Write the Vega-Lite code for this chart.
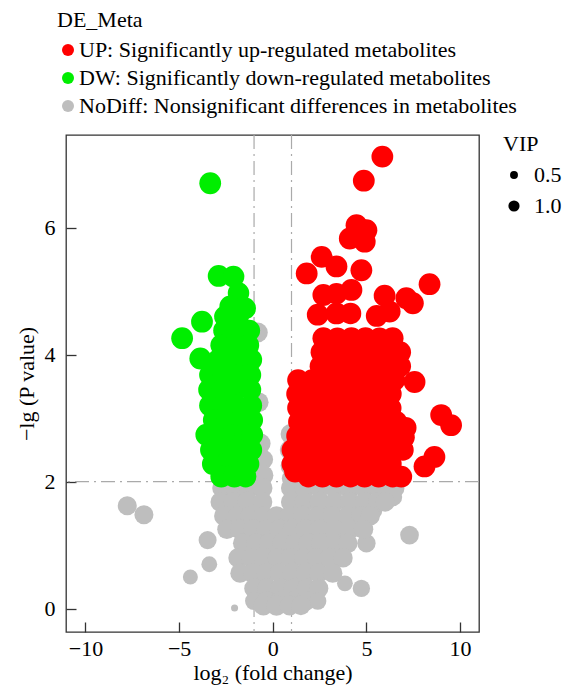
{
  "$schema": "https://vega.github.io/schema/vega-lite/v6.json",
  "width": 413,
  "height": 497,
  "autosize": {"type": "none"},
  "padding": {"left": 66, "top": 135, "right": 96, "bottom": 60},
  "config": {
    "font": "Liberation Serif",
    "view": {"stroke": "#333333", "strokeWidth": 1.3},
    "axis": {"domain": false, "grid": false, "tickColor": "#333333", "tickWidth": 1.3, "tickSize": -10, "labelFont": "Liberation Serif", "titleFont": "Liberation Serif", "labelFontSize": 22, "labelColor": "#000000", "titleFontSize": 22, "titleFontWeight": "normal", "titleColor": "#000000"},
    "legend": {"labelFont": "Liberation Serif", "titleFont": "Liberation Serif", "titleFontSize": 22, "titleFontWeight": "normal", "titleColor": "#000000", "labelFontSize": 22, "labelColor": "#000000", "labelLimit": 600}
  },
  "layer": [
    {
      "data": {"values": [{"lfc": -1}, {"lfc": 1}]},
      "mark": {"type": "rule", "color": "#aaaaaa", "strokeWidth": 1.2, "strokeDash": [14, 5, 2, 5]},
      "encoding": {
        "x": {"field": "lfc", "type": "quantitative", "scale": {"domain": [-11.04, 11.01], "nice": false, "zero": false}, "axis": {"values": [-10, -5, 0, 5, 10], "title": "log₂ (fold change)", "labelPadding": 16, "titleY": 40, "titleBaseline": "middle"}}
      }
    },
    {
      "data": {"values": [{"nlp": 2}]},
      "mark": {"type": "rule", "color": "#aaaaaa", "strokeWidth": 1.2, "strokeDash": [14, 5, 2, 5]},
      "encoding": {
        "y": {"field": "nlp", "type": "quantitative", "scale": {"domain": [-0.367, 7.46], "nice": false, "zero": false}, "axis": {"values": [0, 2, 4, 6], "title": "−lg (P value)", "labelPadding": 21, "titleX": -40, "titleY": 248.5, "titleBaseline": "middle", "titleAlign": "center", "titleAngle": 270}}
      }
    },
    {
      "data": {"values": [
        {"lfc": -7.77, "nlp": 1.62, "vip": 2.9, "g": "NoDiff"},
        {"lfc": -6.88, "nlp": 1.48, "vip": 2.9, "g": "NoDiff"},
        {"lfc": -3.48, "nlp": 1.08, "vip": 2.6, "g": "NoDiff"},
        {"lfc": -3.39, "nlp": 0.7, "vip": 2.0, "g": "NoDiff"},
        {"lfc": -4.4, "nlp": 0.5, "vip": 1.8, "g": "NoDiff"},
        {"lfc": -2.04, "nlp": 0.01, "vip": 0.4, "g": "NoDiff"},
        {"lfc": 7.3, "nlp": 1.16, "vip": 2.8, "g": "NoDiff"},
        {"lfc": 5.0, "nlp": 1.03, "vip": 2.7, "g": "NoDiff"},
        {"lfc": 3.85, "nlp": 0.4, "vip": 2.0, "g": "NoDiff"},
        {"lfc": 4.73, "nlp": 0.32, "vip": 2.4, "g": "NoDiff"},
        {"lfc": 5.35, "nlp": 1.55, "vip": 2.8, "g": "NoDiff"},
        {"lfc": 6.41, "nlp": 1.76, "vip": 2.8, "g": "NoDiff"},
        {"lfc": -0.8, "nlp": 4.35, "vip": 3.2, "g": "NoDiff"},
        {"lfc": -0.75, "nlp": 3.25, "vip": 3.1, "g": "NoDiff"},
        {"lfc": -0.65, "nlp": 2.6, "vip": 3.2, "g": "NoDiff"},
        {"lfc": -0.5, "nlp": 2.35, "vip": 3.0, "g": "NoDiff"},
        {"lfc": -0.5, "nlp": 2.1, "vip": 3.2, "g": "NoDiff"},
        {"lfc": 0.95, "nlp": 2.75, "vip": 3.2, "g": "NoDiff"},
        {"lfc": 0.9, "nlp": 2.5, "vip": 3.1, "g": "NoDiff"},
        {"lfc": 0.95, "nlp": 2.25, "vip": 3.2, "g": "NoDiff"},
        {"lfc": 1.0, "nlp": 2.05, "vip": 3.0, "g": "NoDiff"},
        {"lfc": -2.7, "nlp": 1.9, "vip": 3.2, "g": "NoDiff"},
        {"lfc": -2.0, "nlp": 1.9, "vip": 3.3, "g": "NoDiff"},
        {"lfc": -1.3, "nlp": 1.9, "vip": 3.1, "g": "NoDiff"},
        {"lfc": -0.55, "nlp": 1.9, "vip": 3.2, "g": "NoDiff"},
        {"lfc": 0.97, "nlp": 1.9, "vip": 3.2, "g": "NoDiff"},
        {"lfc": 1.7, "nlp": 1.9, "vip": 3.3, "g": "NoDiff"},
        {"lfc": 2.5, "nlp": 1.9, "vip": 3.1, "g": "NoDiff"},
        {"lfc": 3.3, "nlp": 1.9, "vip": 3.2, "g": "NoDiff"},
        {"lfc": 4.1, "nlp": 1.9, "vip": 3.3, "g": "NoDiff"},
        {"lfc": 4.9, "nlp": 1.9, "vip": 3.2, "g": "NoDiff"},
        {"lfc": 5.7, "nlp": 1.9, "vip": 3.1, "g": "NoDiff"},
        {"lfc": 6.5, "nlp": 1.9, "vip": 3.2, "g": "NoDiff"},
        {"lfc": -2.8, "nlp": 1.68, "vip": 3.1, "g": "NoDiff"},
        {"lfc": -2.1, "nlp": 1.68, "vip": 3.2, "g": "NoDiff"},
        {"lfc": -1.35, "nlp": 1.68, "vip": 3.3, "g": "NoDiff"},
        {"lfc": -0.55, "nlp": 1.68, "vip": 3.1, "g": "NoDiff"},
        {"lfc": 0.97, "nlp": 1.68, "vip": 3.2, "g": "NoDiff"},
        {"lfc": 1.7, "nlp": 1.68, "vip": 3.2, "g": "NoDiff"},
        {"lfc": 2.5, "nlp": 1.68, "vip": 3.3, "g": "NoDiff"},
        {"lfc": 3.3, "nlp": 1.68, "vip": 3.1, "g": "NoDiff"},
        {"lfc": 4.1, "nlp": 1.68, "vip": 3.2, "g": "NoDiff"},
        {"lfc": 4.9, "nlp": 1.68, "vip": 3.2, "g": "NoDiff"},
        {"lfc": 5.6, "nlp": 1.68, "vip": 3.1, "g": "NoDiff"},
        {"lfc": 6.0, "nlp": 1.68, "vip": 3.0, "g": "NoDiff"},
        {"lfc": -2.6, "nlp": 1.46, "vip": 3.2, "g": "NoDiff"},
        {"lfc": -1.9, "nlp": 1.46, "vip": 3.1, "g": "NoDiff"},
        {"lfc": -1.2, "nlp": 1.46, "vip": 3.3, "g": "NoDiff"},
        {"lfc": -0.5, "nlp": 1.46, "vip": 3.2, "g": "NoDiff"},
        {"lfc": 0.2, "nlp": 1.46, "vip": 3.1, "g": "NoDiff"},
        {"lfc": 0.9, "nlp": 1.46, "vip": 3.2, "g": "NoDiff"},
        {"lfc": 1.6, "nlp": 1.46, "vip": 3.3, "g": "NoDiff"},
        {"lfc": 2.4, "nlp": 1.46, "vip": 3.2, "g": "NoDiff"},
        {"lfc": 3.2, "nlp": 1.46, "vip": 3.1, "g": "NoDiff"},
        {"lfc": 4.0, "nlp": 1.46, "vip": 3.2, "g": "NoDiff"},
        {"lfc": 4.7, "nlp": 1.46, "vip": 3.2, "g": "NoDiff"},
        {"lfc": 5.2, "nlp": 1.46, "vip": 3.0, "g": "NoDiff"},
        {"lfc": -2.45, "nlp": 1.25, "vip": 3.0, "g": "NoDiff"},
        {"lfc": -1.75, "nlp": 1.25, "vip": 3.2, "g": "NoDiff"},
        {"lfc": -1.05, "nlp": 1.25, "vip": 3.3, "g": "NoDiff"},
        {"lfc": -0.35, "nlp": 1.25, "vip": 3.1, "g": "NoDiff"},
        {"lfc": 0.35, "nlp": 1.25, "vip": 3.2, "g": "NoDiff"},
        {"lfc": 1.05, "nlp": 1.25, "vip": 3.2, "g": "NoDiff"},
        {"lfc": 1.75, "nlp": 1.25, "vip": 3.3, "g": "NoDiff"},
        {"lfc": 2.5, "nlp": 1.25, "vip": 3.1, "g": "NoDiff"},
        {"lfc": 3.3, "nlp": 1.25, "vip": 3.2, "g": "NoDiff"},
        {"lfc": 4.1, "nlp": 1.25, "vip": 3.2, "g": "NoDiff"},
        {"lfc": 4.85, "nlp": 1.25, "vip": 3.0, "g": "NoDiff"},
        {"lfc": -1.6, "nlp": 1.03, "vip": 3.1, "g": "NoDiff"},
        {"lfc": -0.9, "nlp": 1.03, "vip": 3.2, "g": "NoDiff"},
        {"lfc": -0.2, "nlp": 1.03, "vip": 3.3, "g": "NoDiff"},
        {"lfc": 0.5, "nlp": 1.03, "vip": 3.2, "g": "NoDiff"},
        {"lfc": 1.2, "nlp": 1.03, "vip": 3.1, "g": "NoDiff"},
        {"lfc": 1.9, "nlp": 1.03, "vip": 3.2, "g": "NoDiff"},
        {"lfc": 2.6, "nlp": 1.03, "vip": 3.3, "g": "NoDiff"},
        {"lfc": 3.3, "nlp": 1.03, "vip": 3.2, "g": "NoDiff"},
        {"lfc": 4.0, "nlp": 1.03, "vip": 3.1, "g": "NoDiff"},
        {"lfc": -1.85, "nlp": 0.8, "vip": 3.1, "g": "NoDiff"},
        {"lfc": -1.15, "nlp": 0.8, "vip": 3.2, "g": "NoDiff"},
        {"lfc": -0.45, "nlp": 0.8, "vip": 3.3, "g": "NoDiff"},
        {"lfc": 0.25, "nlp": 0.8, "vip": 3.2, "g": "NoDiff"},
        {"lfc": 0.95, "nlp": 0.8, "vip": 3.2, "g": "NoDiff"},
        {"lfc": 1.65, "nlp": 0.8, "vip": 3.1, "g": "NoDiff"},
        {"lfc": 2.35, "nlp": 0.8, "vip": 3.2, "g": "NoDiff"},
        {"lfc": 3.05, "nlp": 0.8, "vip": 3.3, "g": "NoDiff"},
        {"lfc": 3.75, "nlp": 0.8, "vip": 3.0, "g": "NoDiff"},
        {"lfc": -1.75, "nlp": 0.56, "vip": 3.0, "g": "NoDiff"},
        {"lfc": -1.05, "nlp": 0.56, "vip": 3.2, "g": "NoDiff"},
        {"lfc": -0.35, "nlp": 0.56, "vip": 3.3, "g": "NoDiff"},
        {"lfc": 0.35, "nlp": 0.56, "vip": 3.1, "g": "NoDiff"},
        {"lfc": 1.05, "nlp": 0.56, "vip": 3.2, "g": "NoDiff"},
        {"lfc": 1.75, "nlp": 0.56, "vip": 3.2, "g": "NoDiff"},
        {"lfc": 2.45, "nlp": 0.56, "vip": 3.1, "g": "NoDiff"},
        {"lfc": 3.2, "nlp": 0.56, "vip": 3.0, "g": "NoDiff"},
        {"lfc": -1.0, "nlp": 0.32, "vip": 3.1, "g": "NoDiff"},
        {"lfc": -0.3, "nlp": 0.32, "vip": 3.2, "g": "NoDiff"},
        {"lfc": 0.4, "nlp": 0.32, "vip": 3.3, "g": "NoDiff"},
        {"lfc": 1.1, "nlp": 0.32, "vip": 3.2, "g": "NoDiff"},
        {"lfc": 1.8, "nlp": 0.32, "vip": 3.1, "g": "NoDiff"},
        {"lfc": 2.45, "nlp": 0.32, "vip": 3.0, "g": "NoDiff"},
        {"lfc": -1.0, "nlp": 0.12, "vip": 2.6, "g": "NoDiff"},
        {"lfc": -0.3, "nlp": 0.12, "vip": 3.2, "g": "NoDiff"},
        {"lfc": 0.4, "nlp": 0.12, "vip": 3.3, "g": "NoDiff"},
        {"lfc": 1.1, "nlp": 0.12, "vip": 3.2, "g": "NoDiff"},
        {"lfc": 1.75, "nlp": 0.12, "vip": 3.1, "g": "NoDiff"},
        {"lfc": 2.4, "nlp": 0.12, "vip": 2.4, "g": "NoDiff"},
        {"lfc": -0.5, "nlp": 0.05, "vip": 3.2, "g": "NoDiff"},
        {"lfc": 0.2, "nlp": 0.05, "vip": 3.3, "g": "NoDiff"},
        {"lfc": 0.9, "nlp": 0.05, "vip": 3.2, "g": "NoDiff"},
        {"lfc": 1.5, "nlp": 0.05, "vip": 3.0, "g": "NoDiff"},

        {"lfc": -3.34, "nlp": 6.7, "vip": 3.8, "g": "DW"},
        {"lfc": -2.89, "nlp": 5.24, "vip": 3.8, "g": "DW"},
        {"lfc": -2.1, "nlp": 5.23, "vip": 3.8, "g": "DW"},
        {"lfc": -1.83, "nlp": 4.97, "vip": 3.7, "g": "DW"},
        {"lfc": -2.27, "nlp": 4.76, "vip": 3.8, "g": "DW"},
        {"lfc": -1.47, "nlp": 4.73, "vip": 3.7, "g": "DW"},
        {"lfc": -3.78, "nlp": 4.52, "vip": 3.8, "g": "DW"},
        {"lfc": -4.84, "nlp": 4.26, "vip": 3.8, "g": "DW"},
        {"lfc": -3.87, "nlp": 3.94, "vip": 3.8, "g": "DW"},
        {"lfc": -2.55, "nlp": 4.6, "vip": 3.8, "g": "DW"},
        {"lfc": -1.85, "nlp": 4.6, "vip": 3.7, "g": "DW"},
        {"lfc": -2.6, "nlp": 4.38, "vip": 3.8, "g": "DW"},
        {"lfc": -1.9, "nlp": 4.38, "vip": 3.8, "g": "DW"},
        {"lfc": -1.25, "nlp": 4.38, "vip": 3.7, "g": "DW"},
        {"lfc": -2.75, "nlp": 4.15, "vip": 3.8, "g": "DW"},
        {"lfc": -2.05, "nlp": 4.15, "vip": 3.8, "g": "DW"},
        {"lfc": -1.3, "nlp": 4.15, "vip": 3.7, "g": "DW"},
        {"lfc": -2.9, "nlp": 3.92, "vip": 3.8, "g": "DW"},
        {"lfc": -2.2, "nlp": 3.92, "vip": 3.8, "g": "DW"},
        {"lfc": -1.5, "nlp": 3.92, "vip": 3.7, "g": "DW"},
        {"lfc": -1.15, "nlp": 3.92, "vip": 3.8, "g": "DW"},
        {"lfc": -3.35, "nlp": 3.68, "vip": 3.8, "g": "DW"},
        {"lfc": -2.65, "nlp": 3.68, "vip": 3.8, "g": "DW"},
        {"lfc": -1.95, "nlp": 3.68, "vip": 3.7, "g": "DW"},
        {"lfc": -1.2, "nlp": 3.68, "vip": 3.8, "g": "DW"},
        {"lfc": -3.4, "nlp": 3.45, "vip": 3.8, "g": "DW"},
        {"lfc": -2.7, "nlp": 3.45, "vip": 3.7, "g": "DW"},
        {"lfc": -2.0, "nlp": 3.45, "vip": 3.8, "g": "DW"},
        {"lfc": -1.2, "nlp": 3.45, "vip": 3.8, "g": "DW"},
        {"lfc": -3.35, "nlp": 3.2, "vip": 3.8, "g": "DW"},
        {"lfc": -2.65, "nlp": 3.2, "vip": 3.8, "g": "DW"},
        {"lfc": -1.95, "nlp": 3.2, "vip": 3.7, "g": "DW"},
        {"lfc": -1.15, "nlp": 3.2, "vip": 3.8, "g": "DW"},
        {"lfc": -3.15, "nlp": 2.97, "vip": 3.8, "g": "DW"},
        {"lfc": -2.45, "nlp": 2.97, "vip": 3.7, "g": "DW"},
        {"lfc": -1.75, "nlp": 2.97, "vip": 3.8, "g": "DW"},
        {"lfc": -1.1, "nlp": 2.97, "vip": 3.8, "g": "DW"},
        {"lfc": -3.55, "nlp": 2.74, "vip": 3.8, "g": "DW"},
        {"lfc": -2.85, "nlp": 2.74, "vip": 3.8, "g": "DW"},
        {"lfc": -2.15, "nlp": 2.74, "vip": 3.7, "g": "DW"},
        {"lfc": -1.45, "nlp": 2.74, "vip": 3.8, "g": "DW"},
        {"lfc": -1.1, "nlp": 2.74, "vip": 3.8, "g": "DW"},
        {"lfc": -3.3, "nlp": 2.5, "vip": 3.8, "g": "DW"},
        {"lfc": -2.6, "nlp": 2.5, "vip": 3.7, "g": "DW"},
        {"lfc": -1.9, "nlp": 2.5, "vip": 3.8, "g": "DW"},
        {"lfc": -1.15, "nlp": 2.5, "vip": 3.8, "g": "DW"},
        {"lfc": -3.2, "nlp": 2.28, "vip": 3.8, "g": "DW"},
        {"lfc": -2.5, "nlp": 2.28, "vip": 3.8, "g": "DW"},
        {"lfc": -1.8, "nlp": 2.28, "vip": 3.7, "g": "DW"},
        {"lfc": -1.3, "nlp": 2.28, "vip": 3.8, "g": "DW"},
        {"lfc": -2.75, "nlp": 2.08, "vip": 3.8, "g": "DW"},
        {"lfc": -2.05, "nlp": 2.08, "vip": 3.8, "g": "DW"},
        {"lfc": -1.45, "nlp": 2.08, "vip": 3.7, "g": "DW"},

        {"lfc": 5.85, "nlp": 7.12, "vip": 3.8, "g": "UP"},
        {"lfc": 4.86, "nlp": 6.74, "vip": 3.8, "g": "UP"},
        {"lfc": 4.47, "nlp": 6.04, "vip": 3.8, "g": "UP"},
        {"lfc": 5.0, "nlp": 5.96, "vip": 3.8, "g": "UP"},
        {"lfc": 4.11, "nlp": 5.83, "vip": 3.8, "g": "UP"},
        {"lfc": 4.91, "nlp": 5.78, "vip": 3.8, "g": "UP"},
        {"lfc": 2.61, "nlp": 5.54, "vip": 3.8, "g": "UP"},
        {"lfc": 3.4, "nlp": 5.39, "vip": 3.8, "g": "UP"},
        {"lfc": 1.81, "nlp": 5.28, "vip": 3.8, "g": "UP"},
        {"lfc": 4.73, "nlp": 5.33, "vip": 3.8, "g": "UP"},
        {"lfc": 8.37, "nlp": 5.11, "vip": 3.8, "g": "UP"},
        {"lfc": 2.7, "nlp": 4.94, "vip": 3.8, "g": "UP"},
        {"lfc": 3.4, "nlp": 4.96, "vip": 3.7, "g": "UP"},
        {"lfc": 4.2, "nlp": 5.02, "vip": 3.8, "g": "UP"},
        {"lfc": 5.97, "nlp": 4.93, "vip": 3.8, "g": "UP"},
        {"lfc": 7.13, "nlp": 4.89, "vip": 3.8, "g": "UP"},
        {"lfc": 7.48, "nlp": 4.81, "vip": 3.8, "g": "UP"},
        {"lfc": 2.4, "nlp": 4.63, "vip": 3.8, "g": "UP"},
        {"lfc": 3.4, "nlp": 4.65, "vip": 3.8, "g": "UP"},
        {"lfc": 4.15, "nlp": 4.65, "vip": 3.7, "g": "UP"},
        {"lfc": 5.55, "nlp": 4.61, "vip": 3.8, "g": "UP"},
        {"lfc": 6.24, "nlp": 4.68, "vip": 3.8, "g": "UP"},
        {"lfc": 2.7, "nlp": 4.26, "vip": 3.8, "g": "UP"},
        {"lfc": 3.45, "nlp": 4.26, "vip": 3.7, "g": "UP"},
        {"lfc": 4.2, "nlp": 4.26, "vip": 3.8, "g": "UP"},
        {"lfc": 4.95, "nlp": 4.26, "vip": 3.8, "g": "UP"},
        {"lfc": 5.7, "nlp": 4.26, "vip": 3.7, "g": "UP"},
        {"lfc": 6.4, "nlp": 4.26, "vip": 3.8, "g": "UP"},
        {"lfc": 2.6, "nlp": 4.04, "vip": 3.8, "g": "UP"},
        {"lfc": 3.35, "nlp": 4.04, "vip": 3.8, "g": "UP"},
        {"lfc": 4.1, "nlp": 4.04, "vip": 3.7, "g": "UP"},
        {"lfc": 4.85, "nlp": 4.04, "vip": 3.8, "g": "UP"},
        {"lfc": 5.6, "nlp": 4.04, "vip": 3.8, "g": "UP"},
        {"lfc": 6.35, "nlp": 4.04, "vip": 3.7, "g": "UP"},
        {"lfc": 6.8, "nlp": 4.04, "vip": 3.8, "g": "UP"},
        {"lfc": 2.55, "nlp": 3.82, "vip": 3.8, "g": "UP"},
        {"lfc": 3.3, "nlp": 3.82, "vip": 3.7, "g": "UP"},
        {"lfc": 4.05, "nlp": 3.82, "vip": 3.8, "g": "UP"},
        {"lfc": 4.8, "nlp": 3.82, "vip": 3.8, "g": "UP"},
        {"lfc": 5.55, "nlp": 3.82, "vip": 3.7, "g": "UP"},
        {"lfc": 6.3, "nlp": 3.82, "vip": 3.8, "g": "UP"},
        {"lfc": 6.8, "nlp": 3.82, "vip": 3.8, "g": "UP"},
        {"lfc": 1.35, "nlp": 3.6, "vip": 3.8, "g": "UP"},
        {"lfc": 2.1, "nlp": 3.6, "vip": 3.7, "g": "UP"},
        {"lfc": 2.85, "nlp": 3.6, "vip": 3.8, "g": "UP"},
        {"lfc": 3.6, "nlp": 3.6, "vip": 3.8, "g": "UP"},
        {"lfc": 4.35, "nlp": 3.6, "vip": 3.7, "g": "UP"},
        {"lfc": 5.1, "nlp": 3.6, "vip": 3.8, "g": "UP"},
        {"lfc": 5.85, "nlp": 3.6, "vip": 3.8, "g": "UP"},
        {"lfc": 6.5, "nlp": 3.6, "vip": 3.7, "g": "UP"},
        {"lfc": 7.57, "nlp": 3.57, "vip": 3.8, "g": "UP"},
        {"lfc": 1.3, "nlp": 3.38, "vip": 3.8, "g": "UP"},
        {"lfc": 2.05, "nlp": 3.38, "vip": 3.8, "g": "UP"},
        {"lfc": 2.8, "nlp": 3.38, "vip": 3.7, "g": "UP"},
        {"lfc": 3.55, "nlp": 3.38, "vip": 3.8, "g": "UP"},
        {"lfc": 4.3, "nlp": 3.38, "vip": 3.8, "g": "UP"},
        {"lfc": 5.05, "nlp": 3.38, "vip": 3.7, "g": "UP"},
        {"lfc": 5.8, "nlp": 3.38, "vip": 3.8, "g": "UP"},
        {"lfc": 6.3, "nlp": 3.38, "vip": 3.8, "g": "UP"},
        {"lfc": 1.35, "nlp": 3.16, "vip": 3.8, "g": "UP"},
        {"lfc": 2.1, "nlp": 3.16, "vip": 3.7, "g": "UP"},
        {"lfc": 2.85, "nlp": 3.16, "vip": 3.8, "g": "UP"},
        {"lfc": 3.6, "nlp": 3.16, "vip": 3.8, "g": "UP"},
        {"lfc": 4.35, "nlp": 3.16, "vip": 3.7, "g": "UP"},
        {"lfc": 5.1, "nlp": 3.16, "vip": 3.8, "g": "UP"},
        {"lfc": 5.85, "nlp": 3.16, "vip": 3.8, "g": "UP"},
        {"lfc": 6.3, "nlp": 3.16, "vip": 3.7, "g": "UP"},
        {"lfc": 1.4, "nlp": 2.94, "vip": 3.8, "g": "UP"},
        {"lfc": 2.15, "nlp": 2.94, "vip": 3.8, "g": "UP"},
        {"lfc": 2.9, "nlp": 2.94, "vip": 3.7, "g": "UP"},
        {"lfc": 3.65, "nlp": 2.94, "vip": 3.8, "g": "UP"},
        {"lfc": 4.4, "nlp": 2.94, "vip": 3.8, "g": "UP"},
        {"lfc": 5.15, "nlp": 2.94, "vip": 3.7, "g": "UP"},
        {"lfc": 5.9, "nlp": 2.94, "vip": 3.8, "g": "UP"},
        {"lfc": 6.6, "nlp": 2.94, "vip": 3.8, "g": "UP"},
        {"lfc": 7.1, "nlp": 2.85, "vip": 3.7, "g": "UP"},
        {"lfc": 8.99, "nlp": 3.05, "vip": 3.8, "g": "UP"},
        {"lfc": 9.52, "nlp": 2.89, "vip": 3.8, "g": "UP"},
        {"lfc": 1.3, "nlp": 2.72, "vip": 3.8, "g": "UP"},
        {"lfc": 2.05, "nlp": 2.72, "vip": 3.7, "g": "UP"},
        {"lfc": 2.8, "nlp": 2.72, "vip": 3.8, "g": "UP"},
        {"lfc": 3.55, "nlp": 2.72, "vip": 3.8, "g": "UP"},
        {"lfc": 4.3, "nlp": 2.72, "vip": 3.7, "g": "UP"},
        {"lfc": 5.05, "nlp": 2.72, "vip": 3.8, "g": "UP"},
        {"lfc": 5.8, "nlp": 2.72, "vip": 3.8, "g": "UP"},
        {"lfc": 6.55, "nlp": 2.72, "vip": 3.7, "g": "UP"},
        {"lfc": 7.0, "nlp": 2.7, "vip": 3.8, "g": "UP"},
        {"lfc": 1.05, "nlp": 2.5, "vip": 3.8, "g": "UP"},
        {"lfc": 1.8, "nlp": 2.5, "vip": 3.8, "g": "UP"},
        {"lfc": 2.55, "nlp": 2.5, "vip": 3.7, "g": "UP"},
        {"lfc": 3.3, "nlp": 2.5, "vip": 3.8, "g": "UP"},
        {"lfc": 4.05, "nlp": 2.5, "vip": 3.8, "g": "UP"},
        {"lfc": 4.8, "nlp": 2.5, "vip": 3.7, "g": "UP"},
        {"lfc": 5.55, "nlp": 2.5, "vip": 3.8, "g": "UP"},
        {"lfc": 6.3, "nlp": 2.5, "vip": 3.8, "g": "UP"},
        {"lfc": 6.95, "nlp": 2.5, "vip": 3.7, "g": "UP"},
        {"lfc": 1.05, "nlp": 2.28, "vip": 3.8, "g": "UP"},
        {"lfc": 1.8, "nlp": 2.28, "vip": 3.8, "g": "UP"},
        {"lfc": 2.55, "nlp": 2.28, "vip": 3.7, "g": "UP"},
        {"lfc": 3.3, "nlp": 2.28, "vip": 3.8, "g": "UP"},
        {"lfc": 4.05, "nlp": 2.28, "vip": 3.8, "g": "UP"},
        {"lfc": 4.8, "nlp": 2.28, "vip": 3.7, "g": "UP"},
        {"lfc": 5.55, "nlp": 2.28, "vip": 3.8, "g": "UP"},
        {"lfc": 6.3, "nlp": 2.28, "vip": 3.8, "g": "UP"},
        {"lfc": 8.1, "nlp": 2.24, "vip": 3.8, "g": "UP"},
        {"lfc": 8.63, "nlp": 2.39, "vip": 3.8, "g": "UP"},
        {"lfc": 1.19, "nlp": 2.16, "vip": 3.8, "g": "UP"},
        {"lfc": 1.9, "nlp": 2.08, "vip": 3.7, "g": "UP"},
        {"lfc": 2.65, "nlp": 2.08, "vip": 3.8, "g": "UP"},
        {"lfc": 3.4, "nlp": 2.08, "vip": 3.8, "g": "UP"},
        {"lfc": 4.15, "nlp": 2.08, "vip": 3.7, "g": "UP"},
        {"lfc": 4.9, "nlp": 2.08, "vip": 3.8, "g": "UP"},
        {"lfc": 5.65, "nlp": 2.08, "vip": 3.8, "g": "UP"},
        {"lfc": 6.4, "nlp": 2.08, "vip": 3.7, "g": "UP"},
        {"lfc": 6.86, "nlp": 2.08, "vip": 3.8, "g": "UP"}
      ]},
      "mark": {"type": "circle", "opacity": 1},
      "encoding": {
        "x": {"field": "lfc", "type": "quantitative", "scale": {"domain": [-11.04, 11.01], "nice": false, "zero": false}, "axis": {"values": [-10, -5, 0, 5, 10], "title": "log₂ (fold change)", "labelPadding": 16, "titleY": 40, "titleBaseline": "middle"}},
        "y": {"field": "nlp", "type": "quantitative", "scale": {"domain": [-0.367, 7.46], "nice": false, "zero": false}, "axis": {"values": [0, 2, 4, 6], "title": "−lg (P value)", "labelPadding": 21, "titleX": -40, "titleY": 248.5, "titleBaseline": "middle", "titleAlign": "center", "titleAngle": 270}},
        "color": {"field": "g", "type": "nominal", "scale": {"domain": ["UP", "DW", "NoDiff"], "range": ["#ff0000", "#00ee00", "#bebebe"]},
          "legend": {"title": "DE_Meta", "orient": "none", "legendX": -9, "legendY": -125, "symbolType": "circle", "symbolSize": 144, "symbolStrokeWidth": 0, "titlePadding": 7, "rowPadding": 6, "labelOffset": 0,
            "labelExpr": "datum.label == 'UP' ? 'UP: Significantly up-regulated metabolites' : datum.label == 'DW' ? 'DW: Significantly down-regulated metabolites' : 'NoDiff: Nonsignificant differences in metabolites'"}},
        "size": {"field": "vip", "type": "quantitative", "scale": {"domain": [0, 4], "range": [0, 500]},
          "legend": {"title": "VIP", "orient": "none", "legendX": 437, "legendY": -1, "values": [0.5, 1.0], "format": ".1f", "symbolType": "circle", "titlePadding": 8, "rowPadding": 9, "labelOffset": 9,
            "encode": {"symbols": {"update": {"fill": {"value": "#000000"}, "stroke": {"value": "transparent"}, "opacity": {"value": 1}}}}}},
        "order": {"value": 0}
      }
    }
  ]
}
